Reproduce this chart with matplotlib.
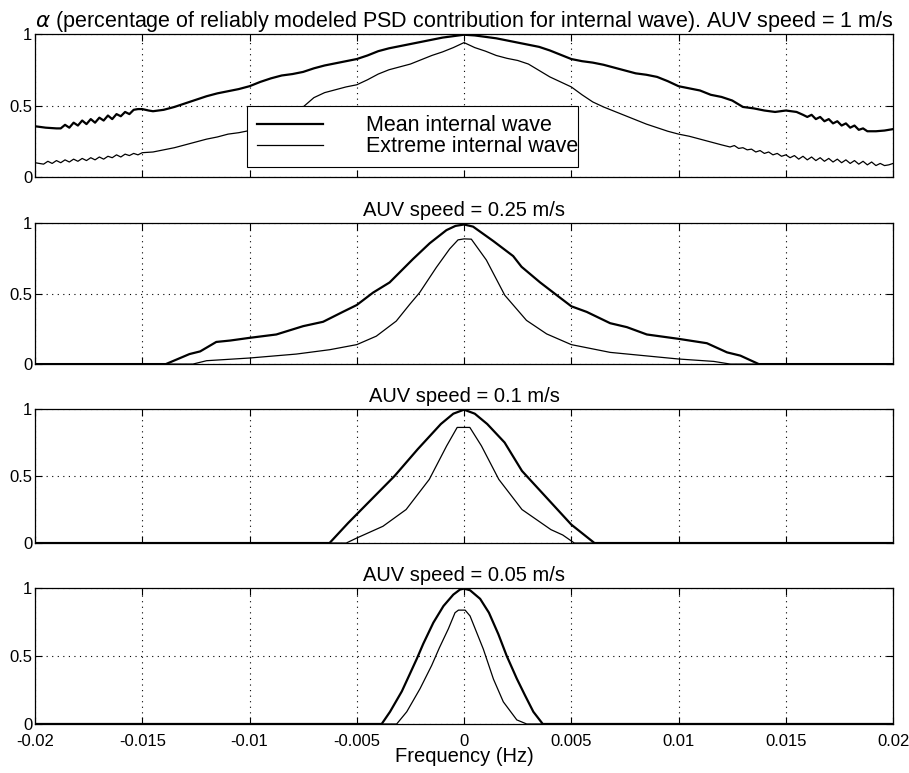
import numpy as np
import matplotlib
matplotlib.use('Agg')
import matplotlib.pyplot as plt

plt.rcParams['font.family'] = ['Liberation Sans', 'DejaVu Sans']

# AUV speed = 1 m/s
f1_mean = [-0.02, -0.0195, -0.019, -0.0188, -0.0186, -0.0184, -0.0182, -0.018, -0.0178, -0.0176,
           -0.0174, -0.0172, -0.017, -0.0168, -0.0166, -0.0164, -0.0162, -0.016, -0.0158, -0.0156,
           -0.0154, -0.0152, -0.015, -0.0147, -0.0145, -0.014, -0.0135, -0.013, -0.0125, -0.012,
           -0.0115, -0.011, -0.0105, -0.01, -0.0095, -0.009, -0.0085, -0.008, -0.0075, -0.007,
           -0.0065, -0.006, -0.0055, -0.005, -0.0045, -0.004, -0.0035, -0.003, -0.0025, -0.002,
           -0.0015, -0.001, -0.0005, 0.0, 0.0005, 0.001, 0.0015, 0.002, 0.0025, 0.003,
           0.0035, 0.004, 0.0045, 0.005, 0.0055, 0.006, 0.0065, 0.007, 0.0075, 0.008,
           0.0085, 0.009, 0.0095, 0.01, 0.0105, 0.011, 0.0115, 0.012, 0.0125, 0.013,
           0.0135, 0.014, 0.0145, 0.015, 0.0155, 0.0158, 0.016, 0.0162, 0.0164, 0.0166,
           0.0168, 0.017, 0.0172, 0.0174, 0.0176, 0.0178, 0.018, 0.0182, 0.0184, 0.0186,
           0.0188, 0.0192, 0.0196, 0.02]
a1_mean = [0.355, 0.345, 0.34, 0.34, 0.365, 0.345, 0.38, 0.36, 0.395, 0.37,
           0.405, 0.38, 0.415, 0.395, 0.43, 0.405, 0.44, 0.425, 0.455, 0.44,
           0.47, 0.475, 0.475, 0.465, 0.46, 0.47, 0.49, 0.515, 0.54, 0.565,
           0.585, 0.60, 0.615, 0.635, 0.665, 0.69, 0.71, 0.72, 0.735, 0.76,
           0.78, 0.795, 0.81, 0.825, 0.85, 0.88, 0.90, 0.915, 0.93, 0.945,
           0.96, 0.975, 0.985, 0.995, 0.99, 0.98, 0.97, 0.955, 0.94, 0.925,
           0.91, 0.885, 0.855, 0.825, 0.81, 0.80, 0.785, 0.765, 0.745, 0.725,
           0.715, 0.70, 0.67, 0.635, 0.62, 0.605, 0.575, 0.56, 0.535, 0.49,
           0.48, 0.465, 0.455, 0.465, 0.455, 0.435, 0.42, 0.435, 0.405, 0.42,
           0.39, 0.405, 0.375, 0.39, 0.36, 0.375, 0.345, 0.36, 0.33, 0.34,
           0.32, 0.32, 0.325, 0.335]

f1_ext = [-0.02, -0.0196, -0.0194, -0.0192, -0.019, -0.0188, -0.0186, -0.0184, -0.0182, -0.018,
          -0.0178, -0.0176, -0.0174, -0.0172, -0.017, -0.0168, -0.0166, -0.0164, -0.0162, -0.016,
          -0.0158, -0.0156, -0.0154, -0.0152, -0.015, -0.0145, -0.014, -0.0135, -0.013, -0.0125,
          -0.012, -0.0115, -0.011, -0.0105, -0.01, -0.0095, -0.009, -0.0085, -0.008, -0.0075,
          -0.007, -0.0065, -0.006, -0.0055, -0.005, -0.0045, -0.004, -0.0035, -0.003, -0.0025,
          -0.002, -0.0015, -0.001, -0.0005, 0.0, 0.0005, 0.001, 0.0015, 0.002, 0.0025,
          0.003, 0.0035, 0.004, 0.0045, 0.005, 0.0055, 0.006, 0.0065, 0.007, 0.0075,
          0.008, 0.0085, 0.009, 0.0095, 0.01, 0.0105, 0.011, 0.0115, 0.012, 0.0124,
          0.0126, 0.0128, 0.013, 0.0132, 0.0134, 0.0136, 0.0138, 0.014, 0.0142, 0.0144,
          0.0146, 0.0148, 0.015, 0.0152, 0.0154, 0.0156, 0.0158, 0.016, 0.0162, 0.0164,
          0.0166, 0.0168, 0.017, 0.0172, 0.0174, 0.0176, 0.0178, 0.018, 0.0182, 0.0184,
          0.0186, 0.0188, 0.019, 0.0192, 0.0194, 0.0196, 0.0198, 0.02]
a1_ext = [0.10, 0.09, 0.11, 0.095, 0.115, 0.10, 0.12, 0.105, 0.125, 0.11,
          0.13, 0.115, 0.135, 0.12, 0.14, 0.125, 0.145, 0.135, 0.155, 0.14,
          0.16, 0.15, 0.165, 0.155, 0.17, 0.175, 0.19, 0.205, 0.225, 0.245,
          0.265, 0.28, 0.30, 0.31, 0.325, 0.35, 0.375, 0.405, 0.445, 0.49,
          0.555, 0.59, 0.61, 0.63, 0.645, 0.68, 0.72, 0.75, 0.77, 0.79,
          0.82, 0.85, 0.875, 0.905, 0.94, 0.905, 0.88, 0.85, 0.83, 0.815,
          0.79, 0.745, 0.70, 0.665, 0.63, 0.575, 0.525, 0.49, 0.46, 0.43,
          0.40, 0.37, 0.345, 0.32, 0.30, 0.285, 0.265, 0.245, 0.225, 0.21,
          0.22, 0.20, 0.205, 0.19, 0.195, 0.175, 0.185, 0.165, 0.175, 0.155,
          0.165, 0.145, 0.155, 0.135, 0.15, 0.125, 0.145, 0.12, 0.14, 0.115,
          0.135, 0.11, 0.13, 0.105, 0.125, 0.10, 0.12, 0.095, 0.115, 0.09,
          0.11, 0.085, 0.105, 0.08, 0.095, 0.08, 0.085, 0.095]

# AUV speed = 0.25 m/s
f2_mean = [-0.02, -0.0139, -0.0128, -0.0123, -0.01155, -0.0109, -0.01, -0.00875, -0.0075, -0.00657,
           -0.00564, -0.005, -0.00424, -0.00347, -0.00238, -0.0016, -0.00082, -0.0004, 0.0, 0.00042,
           0.00136, 0.00229, 0.00268, 0.00354, 0.00431, 0.005, 0.00572, 0.00681, 0.00759, 0.00852,
           0.01, 0.01132, 0.01226, 0.01288, 0.01374, 0.02]
a2_mean = [0.0, 0.0, 0.071, 0.09, 0.157, 0.167, 0.186, 0.21, 0.269, 0.30,
           0.371, 0.419, 0.507, 0.579, 0.745, 0.857, 0.95, 0.98, 0.99, 0.975,
           0.873, 0.766, 0.69, 0.58, 0.49, 0.41, 0.37, 0.29, 0.262, 0.21,
           0.179, 0.148, 0.083, 0.06, 0.0, 0.0]

f2_ext = [-0.02, -0.01264, -0.012, -0.01, -0.00782, -0.00626, -0.005, -0.00409, -0.00316, -0.00253,
          -0.00207, -0.00129, -0.00067, -0.00028, 0.0, 0.00034, 0.00104, 0.0019, 0.00291, 0.00385,
          0.005, 0.00681, 0.01, 0.01164, 0.01241, 0.02]
a2_ext = [0.0, 0.0, 0.024, 0.043, 0.071, 0.102, 0.138, 0.198, 0.305, 0.424,
          0.507, 0.686, 0.817, 0.881, 0.888, 0.886, 0.738, 0.488, 0.31, 0.214,
          0.138, 0.083, 0.036, 0.019, 0.0, 0.0]

# AUV speed = 0.1 m/s
f3_mean = [-0.02, -0.00627, -0.0054, -0.00432, -0.00324, -0.00216, -0.00108, -0.0005, 0.0, 0.0005,
           0.00108, 0.00189, 0.0027, 0.00378, 0.005, 0.00608, 0.02]
a3_mean = [0.0, 0.0, 0.15, 0.325, 0.5, 0.7, 0.888, 0.965, 0.995, 0.965,
           0.888, 0.75, 0.538, 0.35, 0.1375, 0.0, 0.0]

f3_ext = [-0.02, -0.00549, -0.005, -0.00378, -0.0027, -0.00162, -0.00081, -0.00032, 0.00027, 0.00081,
          0.00162, 0.0027, 0.00405, 0.0046, 0.00514, 0.02]
a3_ext = [0.0, 0.0, 0.0375, 0.125, 0.25, 0.475, 0.725, 0.8625, 0.8625, 0.725,
          0.475, 0.25, 0.1, 0.06, 0.0, 0.0]

# AUV speed = 0.05 m/s
f4_mean = [-0.02, -0.00384, -0.00345, -0.0029, -0.00252, -0.0022, -0.0019, -0.00143, -0.00096, -0.0005,
           -0.00019, 0.0, 0.00028, 0.00075, 0.00116, 0.0016, 0.00199, 0.00246, 0.00284, 0.00323,
           0.00367, 0.02]
a4_mean = [0.0, 0.0, 0.09, 0.24, 0.37, 0.48, 0.59, 0.745, 0.867, 0.951,
           0.988, 0.995, 0.983, 0.92, 0.818, 0.66, 0.5, 0.333, 0.211, 0.09,
           0.0, 0.0]

f4_ext = [-0.02, -0.00314, -0.00267, -0.00205, -0.00151, -0.00115, -0.00073, -0.00042, -0.00026, 0.00005,
          0.00028, 0.00059, 0.0009, 0.00137, 0.00183, 0.00246, 0.00292, 0.02]
a4_ext = [0.0, 0.0, 0.09, 0.26, 0.43, 0.56, 0.70, 0.818, 0.837, 0.837,
          0.794, 0.672, 0.55, 0.33, 0.163, 0.03, 0.0, 0.0]

titles = [r'$\alpha$ (percentage of reliably modeled PSD contribution for internal wave). AUV speed = 1 m/s',
          'AUV speed = 0.25 m/s', 'AUV speed = 0.1 m/s', 'AUV speed = 0.05 m/s']
title_sizes = [15.5, 14.5, 14.5, 14.5]
xticks = [-0.02, -0.015, -0.01, -0.005, 0, 0.005, 0.01, 0.015, 0.02]
xticklabels = ['-0.02', '-0.015', '-0.01', '-0.005', '0', '0.005', '0.01', '0.015', '0.02']
yticks = [0, 0.5, 1]
yticklabels = ['0', '0.5', '1']

series = [(f1_mean, a1_mean, f1_ext, a1_ext),
          (f2_mean, a2_mean, f2_ext, a2_ext),
          (f3_mean, a3_mean, f3_ext, a3_ext),
          (f4_mean, a4_mean, f4_ext, a4_ext)]

# axes boxes in figure fraction (left, bottom, width, height)
boxes = [(0.0385, 0.771, 0.944, 0.185),
         (0.0385, 0.529, 0.944, 0.1824),
         (0.0385, 0.2975, 0.944, 0.1734),
         (0.0385, 0.0634, 0.944, 0.176)]

fig = plt.figure(figsize=(9.09, 7.73), dpi=100)

for i, (fm, am, fe, ae) in enumerate(series):
    ax = fig.add_axes(boxes[i])
    ax.plot(fm, am, color='black', lw=1.6, label='Mean internal wave')
    ax.plot(fe, ae, color='black', lw=0.9, label='Extreme internal wave')
    ax.set_xlim(-0.02, 0.02)
    ax.set_ylim(0, 1)
    ax.set_xticks(xticks)
    ax.set_yticks(yticks)
    ax.set_yticklabels(yticklabels)
    if i == 3:
        ax.set_xticklabels(xticklabels)
        ax.set_xlabel('Frequency (Hz)', fontsize=14.5, labelpad=-1)
    else:
        ax.set_xticklabels([])
    ax.grid(True, color='black', linestyle=(0, (1, 4)), linewidth=0.8)
    ax.tick_params(direction='in', top=True, right=True, length=5, width=0.8,
                   labelsize=12)
    ax.tick_params(axis='y', pad=2)
    ax.tick_params(axis='x', pad=7)
    for sp in ax.spines.values():
        sp.set_linewidth(0.9)
    ax.set_title(titles[i], fontsize=title_sizes[i], pad=5)
    if i == 0:
        leg = ax.legend(loc='lower left', bbox_to_anchor=(0.247, 0.07, 0.386, 0.40),
                        mode='expand', fontsize=15.5, frameon=True, fancybox=False,
                        framealpha=1, edgecolor='black', handlelength=3.1,
                        handletextpad=2.0, labelspacing=0.0, borderpad=0.45,
                        borderaxespad=0)
        leg.get_frame().set_linewidth(0.8)

fig.savefig('out.png', dpi=100)
